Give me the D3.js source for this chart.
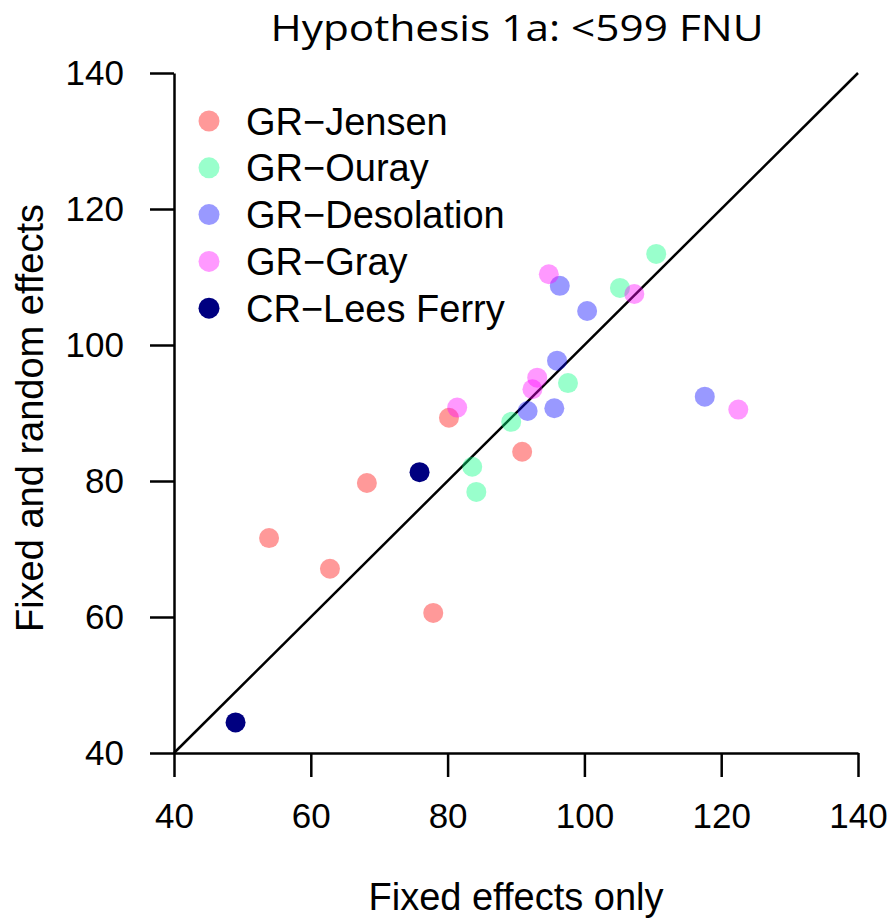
<!DOCTYPE html>
<html><head><meta charset="utf-8">
<script src="https://cdn.jsdelivr.net/npm/d3@7"></script>
<style>body{margin:0;background:#fff}</style>
</head><body>
<svg id="chart" width="894" height="918"></svg>
<script>
const title = "Hypothesis 1a: <599 FNU";
const xLabel = "Fixed effects only";
const yLabel = "Fixed and random effects";
const ticks = [40, 60, 80, 100, 120, 140];
const sites = ["GR\u2212Jensen", "GR\u2212Ouray", "GR\u2212Desolation", "GR\u2212Gray", "CR\u2212Lees Ferry"];
const colors = ["rgba(255,0,0,0.4)", "rgba(0,255,127,0.4)", "rgba(0,0,255,0.4)", "rgba(255,0,255,0.4)", "rgb(0,0,128)"];
const jensenX = [53.9, 62.8, 68.2, 80.2, 90.9, 77.9];
const jensenY = [71.6, 67.1, 79.7, 89.3, 84.3, 60.6];
const ourayX = [110.5, 105.2, 97.6, 89.3, 83.6, 84.2];
const ourayY = [113.4, 108.4, 94.4, 88.7, 82.1, 78.4];
const desolationX = [96.4, 100.4, 96.0, 91.7, 95.6, 117.6];
const desolationY = [108.7, 105.0, 97.7, 90.3, 90.7, 92.4];
const grayX = [94.8, 107.3, 93.1, 92.4, 81.4, 122.5];
const grayY = [110.4, 107.5, 95.2, 93.5, 90.8, 90.5];
const leesX = [75.9, 49.0];
const leesY = [81.3, 44.5];

const seriesX = [jensenX, ourayX, desolationX, grayX, leesX];
const seriesY = [jensenY, ourayY, desolationY, grayY, leesY];

const svg = d3.select("#chart");
const x = d3.scaleLinear().domain([40, 140]).range([174, 858]);
const y = d3.scaleLinear().domain([40, 140]).range([753, 73]);
const axisFont = "'Liberation Sans', Arial, sans-serif";

// title
svg.append("text").attr("x", 517).attr("y", 41).attr("text-anchor", "middle")
  .attr("font-family", "'Open Sans', sans-serif").attr("font-size", 37)
  .attr("textLength", 493).attr("lengthAdjust", "spacingAndGlyphs")
  .text(title);

// x axis
const xa = svg.append("g").attr("transform", "translate(0,753)")
  .call(d3.axisBottom(x).tickValues(ticks).tickSize(24).tickPadding(26).tickSizeOuter(0));
xa.select(".domain").attr("stroke", "#000").attr("stroke-width", 2.5);
xa.selectAll(".tick line").attr("stroke", "#000").attr("stroke-width", 2.5);
xa.selectAll(".tick text").attr("font-family", axisFont).attr("font-size", 35).attr("fill", "#000");

// y axis
const ya = svg.append("g").attr("transform", "translate(174,0)")
  .call(d3.axisLeft(y).tickValues(ticks).tickSize(24).tickPadding(26).tickSizeOuter(0));
ya.select(".domain").attr("stroke", "#000").attr("stroke-width", 2.5);
ya.selectAll(".tick line").attr("stroke", "#000").attr("stroke-width", 2.5);
ya.selectAll(".tick text").attr("font-family", axisFont).attr("font-size", 35).attr("fill", "#000");

// axis titles
svg.append("text").attr("x", 516).attr("y", 910).attr("text-anchor", "middle")
  .attr("font-family", axisFont).attr("font-size", 38).text(xLabel);
svg.append("text").attr("transform", "translate(43,418) rotate(-90)").attr("text-anchor", "middle")
  .attr("font-family", axisFont).attr("font-size", 38).text(yLabel);

// 1:1 line
svg.append("line").attr("x1", x(40)).attr("y1", y(40)).attr("x2", x(140)).attr("y2", y(140))
  .attr("stroke", "#000").attr("stroke-width", 2.5);

// points
seriesX.forEach((xs, i) => {
  xs.forEach((v, j) => {
    svg.append("circle").attr("cx", x(v)).attr("cy", y(seriesY[i][j])).attr("r", 10)
      .attr("fill", colors[i]);
  });
});

// legend
const leg = svg.append("g");
sites.forEach((s, i) => {
  const yy = 121 + i * 46.8;
  leg.append("circle").attr("cx", 209).attr("cy", yy).attr("r", 10.5).attr("fill", colors[i]);
  leg.append("text").attr("x", 246).attr("y", yy + 13.5).attr("font-family", axisFont)
    .attr("font-size", 38).text(s);
});
</script>
</body></html>
